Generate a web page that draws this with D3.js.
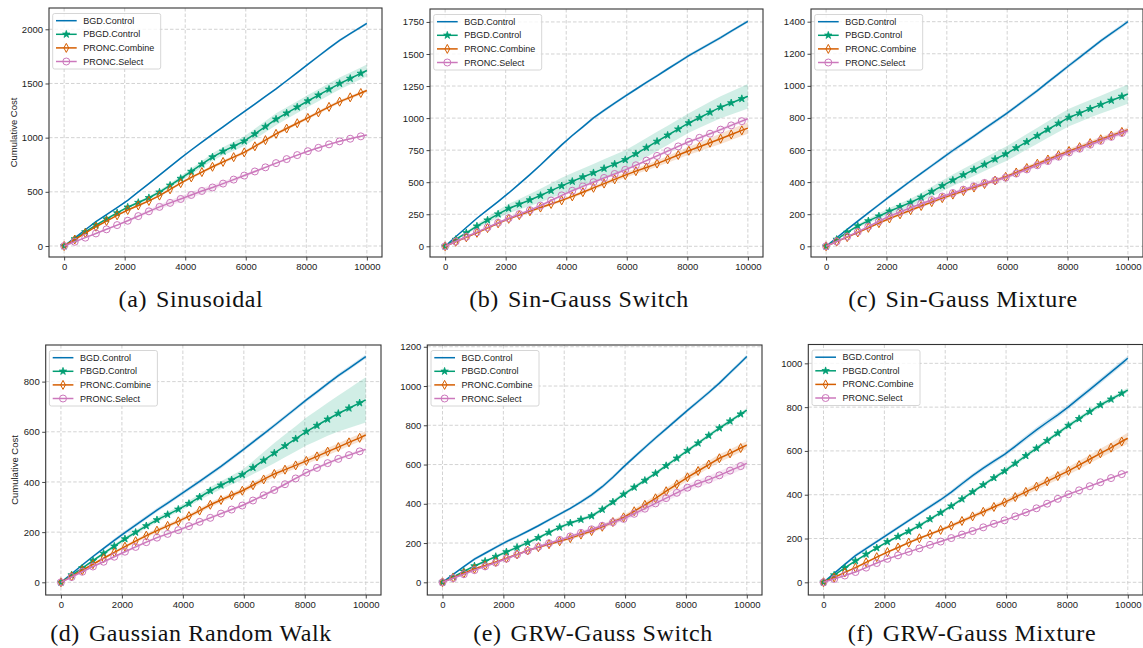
<!DOCTYPE html>
<html>
<head>
<meta charset="utf-8">
<script src="https://cdn.jsdelivr.net/npm/d3@7"></script>
<style>
body { margin: 0; background: #fff; }
svg { display: block; }
</style>
</head>
<body>
<div id="chart"></div>
<script>
// x positions of the plotted points (markers sit on every 350 steps)
var steps = [0, 350, 700, 1050, 1400, 1750, 2100, 2450, 2800, 3150, 3500, 3850, 4200, 4550, 4900,
             5250, 5600, 5950, 6300, 6650, 7000, 7350, 7700, 8050, 8400, 8750, 9100, 9450, 9800, 9999];
var sdSteps = [0, 1000, 2000, 3000, 4000, 5000, 6000, 7000, 8000, 9000, 10000];

var seriesNames = ["BGD.Control", "PBGD.Control", "PRONC.Combine", "PRONC.Select"];
var xTicks = [0, 2000, 4000, 6000, 8000, 10000];

// (a) Sinusoidal
var sinBGD = [0, 75, 150, 224, 289, 354, 422, 499, 576, 654, 732, 811, 886, 958, 1030, 1100, 1170, 1240, 1310, 1380, 1450, 1525, 1600, 1676, 1751, 1826, 1898, 1959, 2020, 2055];
var sinPBGD = [0, 65, 130, 193, 249, 305, 358, 401, 445, 497, 560, 623, 688, 755, 821, 874, 921, 968, 1034, 1102, 1170, 1226, 1282, 1338, 1392, 1446, 1499, 1546, 1593, 1620];
var sinCombine = [0, 60, 119, 178, 230, 283, 332, 374, 416, 465, 523, 580, 633, 682, 731, 776, 820, 864, 920, 977, 1035, 1084, 1133, 1182, 1233, 1284, 1332, 1372, 1412, 1435];
var sinSelect = [0, 39, 77, 116, 154, 193, 233, 276, 320, 361, 398, 434, 471, 508, 540, 576, 613, 650, 688, 726, 765, 802, 839, 875, 906, 938, 966, 990, 1012, 1025];
var sinSd = [[0, 5, 5, 8, 8, 10, 10, 10, 10, 12, 12],
             [0, 8, 10, 15, 25, 35, 45, 55, 55, 55, 55],
             [0, 5, 8, 10, 12, 15, 15, 15, 15, 15, 15],
             [0, 5, 10, 20, 30, 25, 15, 10, 8, 8, 8]];
var sinTicks = [0, 500, 1000, 1500, 2000];

// (b) Sin-Gauss Switch
var sgsBGD = [0, 74, 147, 219, 284, 349, 416, 487, 559, 634, 713, 791, 864, 932, 1001, 1060, 1116, 1172, 1225, 1278, 1330, 1383, 1435, 1487, 1534, 1581, 1628, 1678, 1727, 1755];
var sgsPBGD = [0, 53, 105, 157, 204, 251, 295, 328, 361, 396, 434, 471, 506, 540, 573, 607, 641, 675, 721, 770, 818, 866, 914, 962, 1003, 1045, 1085, 1118, 1151, 1170];
var sgsCombine = [0, 35, 70, 105, 142, 179, 214, 243, 273, 302, 330, 358, 389, 422, 456, 489, 522, 555, 586, 615, 645, 678, 712, 745, 776, 808, 839, 872, 904, 922];
var sgsSelect = [0, 37, 74, 110, 147, 184, 219, 251, 282, 317, 357, 397, 433, 467, 500, 533, 564, 596, 632, 668, 705, 742, 779, 815, 846, 878, 910, 943, 976, 995];
var sgsSd = [[0, 5, 8, 10, 10, 12, 12, 12, 12, 12, 12],
             [0, 15, 35, 50, 65, 70, 75, 75, 75, 85, 95],
             [0, 5, 8, 10, 12, 15, 20, 25, 30, 40, 45],
             [0, 5, 8, 10, 12, 12, 12, 12, 12, 15, 15]];
var sgsTicks = [0, 250, 500, 750, 1000, 1250, 1500, 1750];

// (c) Sin-Gauss Mixture
var sgmBGD = [0, 53, 105, 157, 208, 259, 309, 358, 407, 455, 502, 549, 597, 642, 687, 733, 778, 824, 872, 921, 970, 1023, 1075, 1127, 1178, 1229, 1280, 1327, 1373, 1400];
var sgmPBGD = [0, 43, 86, 127, 158, 188, 218, 246, 273, 305, 341, 377, 412, 445, 478, 510, 543, 575, 613, 651, 689, 728, 766, 803, 830, 857, 883, 909, 934, 949];
var sgmCombine = [0, 29, 57, 86, 115, 144, 173, 199, 225, 251, 275, 300, 322, 344, 366, 388, 410, 433, 460, 488, 515, 541, 568, 594, 618, 643, 667, 690, 713, 726];
var sgmSelect = [0, 30, 60, 90, 123, 156, 188, 214, 240, 265, 288, 310, 332, 353, 374, 395, 410, 428, 453, 479, 505, 531, 558, 584, 608, 633, 657, 682, 706, 720];
var sgmSd = [[0, 8, 10, 10, 12, 12, 12, 12, 12, 12, 12],
             [0, 10, 20, 25, 35, 40, 45, 50, 55, 55, 60],
             [0, 5, 8, 10, 10, 10, 12, 12, 15, 15, 15],
             [0, 5, 8, 10, 10, 10, 10, 12, 15, 15, 15]];
var sgmTicks = [0, 200, 400, 600, 800, 1000, 1200, 1400];

// (d) Gaussian Random Walk
var grwBGD = [0, 34, 69, 103, 135, 167, 198, 228, 258, 288, 316, 345, 373, 402, 432, 462, 494, 526, 559, 592, 625, 659, 693, 727, 759, 792, 824, 853, 883, 900];
var grwPBGD = [0, 29, 57, 86, 115, 144, 173, 199, 225, 249, 270, 291, 314, 340, 365, 387, 408, 429, 457, 486, 515, 544, 572, 601, 625, 650, 673, 694, 715, 727];
var grwCombine = [0, 24, 48, 72, 96, 119, 142, 164, 186, 206, 225, 243, 264, 286, 309, 328, 347, 365, 387, 410, 432, 449, 466, 484, 502, 521, 539, 558, 576, 587];
var grwSelect = [0, 21, 42, 63, 82, 102, 122, 141, 160, 178, 193, 208, 224, 241, 257, 274, 290, 306, 326, 347, 368, 391, 414, 437, 456, 475, 492, 507, 522, 530];
var grwSd = [[0, 5, 8, 8, 8, 8, 8, 8, 8, 8, 8],
             [0, 5, 8, 10, 10, 15, 20, 40, 55, 70, 90],
             [0, 5, 6, 8, 8, 10, 10, 12, 12, 15, 15],
             [0, 4, 5, 5, 5, 6, 6, 6, 6, 6, 6]];
var grwTicks = [0, 200, 400, 600, 800];

// (e) GRW-Gauss Switch
var ggsBGD = [0, 40, 80, 118, 148, 178, 207, 233, 260, 288, 318, 347, 377, 410, 445, 487, 535, 588, 638, 687, 735, 782, 829, 876, 921, 967, 1015, 1068, 1120, 1150];
var ggsPBGD = [0, 28, 56, 83, 107, 131, 155, 178, 202, 227, 254, 280, 302, 320, 338, 371, 409, 448, 484, 519, 555, 594, 632, 671, 709, 748, 786, 821, 857, 877];
var ggsCombine = [0, 23, 46, 69, 86, 104, 123, 142, 162, 179, 194, 209, 225, 243, 261, 283, 307, 331, 362, 395, 428, 464, 499, 535, 567, 600, 632, 657, 684, 699];
var ggsSelect = [0, 21, 41, 62, 81, 100, 120, 141, 161, 181, 199, 216, 234, 252, 270, 288, 306, 323, 349, 375, 402, 429, 456, 482, 503, 523, 545, 569, 592, 606];
var ggsSd = [[0, 8, 8, 8, 8, 10, 10, 10, 10, 10, 10],
             [0, 5, 8, 8, 8, 10, 10, 10, 10, 10, 10],
             [0, 5, 5, 5, 8, 10, 12, 15, 18, 20, 20],
             [0, 5, 5, 5, 8, 10, 12, 15, 18, 20, 22]];
var ggsTicks = [0, 200, 400, 600, 800, 1000, 1200];

// (f) GRW-Gauss Mixture
var ggmBGD = [0, 41, 82, 122, 154, 186, 218, 250, 282, 314, 346, 377, 412, 450, 487, 521, 553, 584, 621, 659, 696, 731, 765, 801, 841, 880, 920, 960, 1000, 1023];
var ggmPBGD = [0, 33, 66, 98, 128, 157, 185, 209, 233, 259, 289, 318, 348, 380, 413, 445, 477, 508, 543, 578, 612, 647, 681, 716, 747, 779, 810, 836, 863, 878];
var ggmCombine = [0, 22, 45, 67, 91, 115, 138, 159, 181, 201, 220, 239, 259, 280, 301, 322, 344, 365, 389, 413, 437, 461, 485, 509, 535, 562, 589, 615, 643, 658];
var ggmSelect = [0, 15, 31, 47, 67, 88, 107, 123, 139, 155, 171, 186, 202, 218, 234, 251, 267, 283, 301, 319, 338, 359, 381, 402, 420, 439, 457, 476, 494, 505];
var ggmSd = [[0, 8, 8, 8, 10, 10, 10, 12, 12, 12, 12],
             [0, 5, 5, 8, 8, 8, 10, 10, 10, 10, 10],
             [0, 5, 5, 5, 8, 10, 12, 15, 18, 20, 25],
             [0, 3, 3, 3, 4, 4, 4, 4, 4, 4, 4]];
var ggmTicks = [0, 200, 400, 600, 800, 1000];

var colors = ["#0173b2", "#029e73", "#d55e00", "#cc78bc"];
var markers = ["none", "star", "diamond", "circle"];

var panels = [
  {tag: "(a)", name: "Sinusoidal", series: [sinBGD, sinPBGD, sinCombine, sinSelect], sd: sinSd, ticks: sinTicks,
   yDom: [-101.5, 2196.5], box: [49, 8, 382, 257], ylabel: 13, cap: [191, 307]},
  {tag: "(b)", name: "Sin-Gauss Switch", series: [sgsBGD, sgsPBGD, sgsCombine, sgsSelect], sd: sgsSd, ticks: sgsTicks,
   yDom: [-83.6, 1851], box: [430, 9, 763, 257], cap: [579, 307]},
  {tag: "(c)", name: "Sin-Gauss Mixture", series: [sgmBGD, sgmPBGD, sgmCombine, sgmSelect], sd: sgmSd, ticks: sgmTicks,
   yDom: [-66.8, 1479], box: [811, 9, 1143, 257], cap: [963, 307]},
  {tag: "(d)", name: "Gaussian Random Walk", series: [grwBGD, grwPBGD, grwCombine, grwSelect], sd: grwSd, ticks: grwTicks,
   yDom: [-50.6, 946], box: [45.7, 345, 381, 595], ylabel: 14.5, cap: [191, 641]},
  {tag: "(e)", name: "GRW-Gauss Switch", series: [ggsBGD, ggsPBGD, ggsCombine, ggsSelect], sd: ggsSd, ticks: ggsTicks,
   yDom: [-64.7, 1209], box: [427.3, 345, 762, 595], cap: [593, 641]},
  {tag: "(f)", name: "GRW-Gauss Mixture", series: [ggmBGD, ggmPBGD, ggmCombine, ggmSelect], sd: ggmSd, ticks: ggmTicks,
   yDom: [-58, 1086], box: [808.3, 344.5, 1143, 595], cap: [972, 641]}
];

var svg = d3.select("#chart").append("svg")
    .attr("width", 1143)
    .attr("height", 648)
    .attr("font-family", "'Liberation Sans', Arial, sans-serif");

function drawMarker(g, type, color, cx, cy) {
  if (type == "star") {
    g.append("path")
      .attr("d", d3.symbol(d3.symbolStar, 17)())
      .attr("transform", "translate(" + cx + "," + cy + ")")
      .attr("fill", color).attr("stroke", color).attr("stroke-width", 0.8);
  } else if (type == "diamond") {
    g.append("path")
      .attr("d", "M0,-4.5L2.4,0L0,4.5L-2.4,0Z")
      .attr("transform", "translate(" + cx + "," + cy + ")")
      .attr("fill", "none").attr("stroke", color).attr("stroke-width", 1);
  } else if (type == "circle") {
    g.append("circle")
      .attr("cx", cx).attr("cy", cy).attr("r", 3.5)
      .attr("fill", "none").attr("stroke", color).attr("stroke-width", 1);
  }
}

panels.forEach(function(p) {
  var left = p.box[0], top = p.box[1], right = p.box[2], bottom = p.box[3];
  var x = d3.scaleLinear().domain([-500, 10500]).range([left, right]);
  var y = d3.scaleLinear().domain(p.yDom).range([bottom, top]);
  var g = svg.append("g");

  // grid
  g.selectAll(".gx").data(xTicks).enter().append("line")
    .attr("x1", function(d) { return x(d); }).attr("x2", function(d) { return x(d); })
    .attr("y1", top).attr("y2", bottom)
    .attr("stroke", "#c8c8c8").attr("stroke-width", 0.8).attr("stroke-dasharray", "3.5,2");
  g.selectAll(".gy").data(p.ticks).enter().append("line")
    .attr("x1", left).attr("x2", right)
    .attr("y1", function(d) { return y(d); }).attr("y2", function(d) { return y(d); })
    .attr("stroke", "#c8c8c8").attr("stroke-width", 0.8).attr("stroke-dasharray", "3.5,2");

  // series
  p.series.forEach(function(vals, k) {
    var spread = d3.scaleLinear().domain(sdSteps).range(p.sd[k]);
    var pts = steps.map(function(s, i) { return [s, vals[i]]; });
    var area = d3.area()
      .x(function(d) { return x(d[0]); })
      .y0(function(d) { return y(d[1] - spread(d[0])); })
      .y1(function(d) { return y(d[1] + spread(d[0])); });
    g.append("path").attr("d", area(pts))
      .attr("fill", colors[k]).attr("fill-opacity", 0.18);
    var line = d3.line()
      .x(function(d) { return x(d[0]); })
      .y(function(d) { return y(d[1]); });
    g.append("path").attr("d", line(pts))
      .attr("fill", "none").attr("stroke", colors[k]).attr("stroke-width", 1.5);
    if (markers[k] != "none") {
      pts.forEach(function(d) {
        if (d[0] % 350 == 0) drawMarker(g, markers[k], colors[k], x(d[0]), y(d[1]));
      });
    }
  });

  // frame
  g.append("rect")
    .attr("x", left).attr("y", top)
    .attr("width", right - left).attr("height", bottom - top)
    .attr("fill", "none").attr("stroke", "#333").attr("stroke-width", 1.1);

  // axes
  var xAxis = d3.axisBottom(x).tickValues(xTicks).tickFormat(d3.format("d")).tickSize(3.5).tickPadding(2.5);
  var ax = g.append("g").attr("transform", "translate(0," + bottom + ")").call(xAxis);
  var yAxis = d3.axisLeft(y).tickValues(p.ticks).tickFormat(d3.format("d")).tickSize(3.5).tickPadding(2.5);
  var ay = g.append("g").attr("transform", "translate(" + left + ",0)").call(yAxis);
  [ax, ay].forEach(function(a) {
    a.select(".domain").remove();
    a.selectAll(".tick line").attr("stroke", "#333").attr("stroke-width", 0.9);
    a.selectAll(".tick text").attr("fill", "#222").attr("font-size", "9.5px")
      .attr("font-family", "'Liberation Sans', Arial, sans-serif");
  });

  if (p.ylabel) {
    g.append("text")
      .attr("transform", "translate(" + p.ylabel + "," + ((top + bottom) / 2) + ") rotate(-90)")
      .attr("text-anchor", "middle").attr("dominant-baseline", "central")
      .attr("font-size", "9.5px").attr("fill", "#222")
      .text("Cumulative Cost");
  }

  // legend
  var lg = g.append("g").attr("transform", "translate(" + (left + 3.7) + "," + (top + 5.5) + ")");
  lg.append("rect").attr("width", 108).attr("height", 55.5).attr("rx", 2)
    .attr("fill", "#fff").attr("fill-opacity", 0.8)
    .attr("stroke", "#cccccc").attr("stroke-width", 0.8);
  seriesNames.forEach(function(name, k) {
    var ry = 7.2 + k * 13.6;
    lg.append("line").attr("x1", 3.3).attr("x2", 24).attr("y1", ry).attr("y2", ry)
      .attr("stroke", colors[k]).attr("stroke-width", 1.5);
    drawMarker(lg, markers[k], colors[k], 13.6, ry);
    lg.append("text").attr("x", 30.6).attr("y", ry)
      .attr("dominant-baseline", "central")
      .attr("font-size", "9px").attr("fill", "#222")
      .text(name);
  });

  // caption
  var cap = svg.append("text")
    .attr("x", p.cap[0]).attr("y", p.cap[1])
    .attr("text-anchor", "middle")
    .attr("font-family", "'Liberation Serif', 'Times New Roman', serif")
    .attr("font-size", "24px").attr("letter-spacing", "0.6px").attr("fill", "#111");
  cap.append("tspan").text(p.tag);
  cap.append("tspan").attr("dx", 9).text(p.name);
});
</script>
</body>
</html>
